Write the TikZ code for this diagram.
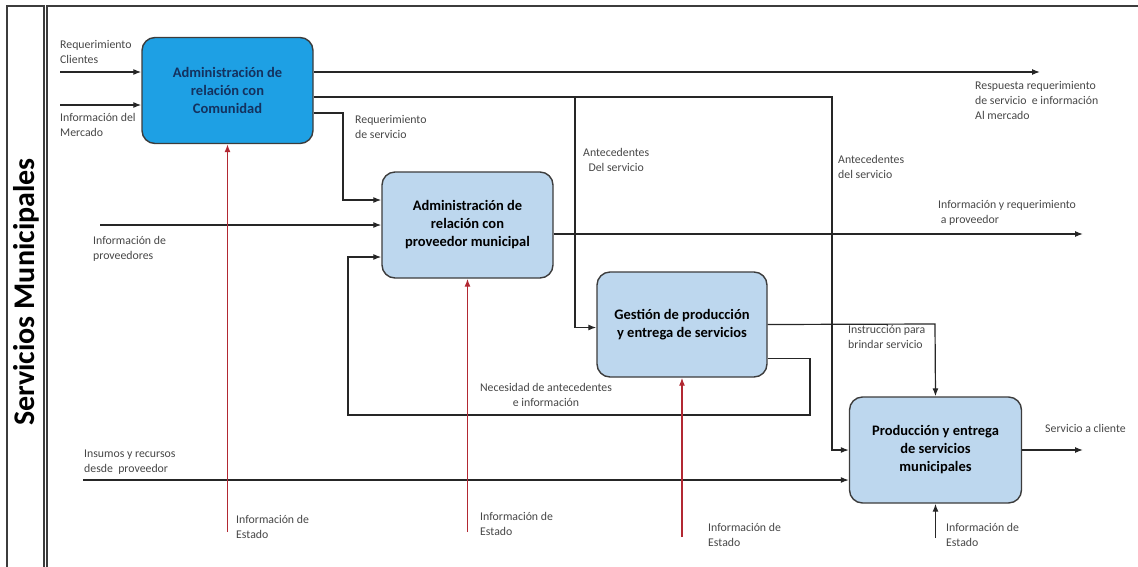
\documentclass[tikz,border=0pt]{standalone}
\usepackage{fontspec}
\setmainfont{Carlito}
\usepackage{xcolor}
\usepackage{tikz}
\usetikzlibrary{arrows.meta}

\definecolor{lineagris}{RGB}{60,60,60}
\definecolor{azulfuerte}{RGB}{30,160,228}
\definecolor{azulclaro}{RGB}{189,215,238}
\definecolor{azultexto}{RGB}{20,50,95}
\definecolor{rojoestado}{RGB}{178,40,50}
\definecolor{textogris}{RGB}{70,70,70}

\tikzset{
  proceso/.style={rectangle, rounded corners=13pt, draw=lineagris, line width=1.4pt,
    fill=azulclaro, minimum width=171pt, minimum height=106pt, align=center,
    font=\fontsize{14.5}{18}\selectfont\bfseries},
  etiqueta/.style={anchor=north west, align=left, inner sep=0pt, text=textogris,
    font=\fontsize{11.8}{15}\selectfont},
  flujo/.style={draw=black!85, line width=1.2pt, -{Latex[length=8pt,width=6pt]}},
  estado/.style={draw=rojoestado, line width=1.2pt, -{Latex[length=8pt,width=6pt]}}
}

\begin{document}
\begin{tikzpicture}[x=1pt, y=-1pt]
     \useasboundingbox (0,0) rectangle (1138,566);

     % marco y titulo
     \draw[lineagris, line width=1.6pt] (7,6) rectangle (44,570);
     \draw[lineagris, line width=1.6pt] (47,570) -- (47,6) -- (1140,6);
     \node[rotate=90, font=\fontsize{30}{34}\selectfont\bfseries] (titulo) at (26,292) {Servicios Municipales};

     % procesos
     \node[proceso, fill=azulfuerte, text=azultexto] (comunidad) at (227.5,90.5) {Administración de\\relación con\\Comunidad};
     \node[proceso] (proveedor) at (467.5,225) {Administración de\\relación con\\proveedor municipal};
     \node[proceso, minimum width=170pt, minimum height=105pt] (gestion) at (682,324.5) {Gestión de producción\\y entrega de servicios};
     \node[proceso, minimum width=172pt] (produccion) at (935.5,450) {Producción y entrega\\de servicios\\municipales};

     % extremos libres
     \coordinate (reqcli) at (60,72);
     \coordinate (infmer) at (60,105);
     \coordinate (resp) at (1040,72);
     \coordinate (antec) at (832,97);
     \coordinate (rama) at (575,97);
     \coordinate (reqserv) at (343,113);
     \coordinate (infprov) at (100,225);
     \coordinate (infreq) at (1083,234);
     \coordinate (instr) at (935,324);
     \coordinate (fbR) at (810,415);
     \coordinate (fbL) at (348,415);
     \coordinate (insumos) at (83,480);
     \coordinate (servcli) at (1083,450);
     \coordinate (est1) at (227.5,532);
     \coordinate (est2) at (467.5,532);
     \coordinate (est3) at (682,537);
     \coordinate (est4) at (935.5,538);

     % flujos
     \draw[flujo] (reqcli) -- (comunidad.west |- reqcli);
     \draw[flujo] (infmer) -- (comunidad.west |- infmer);
     \draw[flujo] (comunidad.east |- resp) -- (resp);
     \draw[flujo] (comunidad.east |- antec) -- (antec) |- (produccion.west);
     \draw[flujo] (rama) |- ([yshift=-3pt]gestion.west);
     \draw[flujo] (comunidad.east |- reqserv) -- (reqserv) |- ([yshift=25pt]proveedor.west);
     \draw[flujo] (infprov) -- (proveedor.west);
     \draw[flujo] ([yshift=-9pt]proveedor.east) -- (infreq);
     \draw[flujo] (gestion.east) -- (instr) -- (produccion.north);
     \draw[flujo] ([yshift=-34pt]gestion.east) -| (fbR) -- (fbL) |- ([yshift=-32pt]proveedor.west);
     \draw[flujo] (insumos) -- (produccion.west |- insumos);
     \draw[flujo] (produccion.east) -- (servcli);
     \draw[estado] (est1) -- (comunidad.south);
     \draw[estado] (est2) -- (proveedor.south);
     \draw[estado] (est3) -- (gestion.south);
     \draw[flujo] (est4) -- (produccion.south);

     % etiquetas
     \node[etiqueta] (lreqcli) at (60,40) {Requerimiento\\Clientes};
     \node[etiqueta] (linfmer) at (60,113) {Información del\\Mercado};
     \node[etiqueta] (lreqserv) at (355,115) {Requerimiento\\de servicio};
     \node[etiqueta, align=center] (lantec1) at (583,148) {Antecedentes\\Del servicio};
     \node[etiqueta] (lresp) at (975,81) {Respuesta requerimiento\\de servicio\ \ e información\\Al mercado};
     \node[etiqueta] (lantec2) at (838,155) {Antecedentes\\del servicio};
     \node[etiqueta] (linfreq) at (938,200) {Información y requerimiento\\\ a proveedor};
     \node[etiqueta] (linfprov) at (93,236) {Información de\\proveedores};
     \node[etiqueta] (linstr) at (848,325) {Instrucción para\\brindar servicio};
     \node[etiqueta, anchor=north, align=center] (lneces) at (546,383) {Necesidad de antecedentes\\e información};
     \node[etiqueta] (linsumos) at (84,450) {Insumos y recursos\\desde\ \ proveedor};
     \node[etiqueta] (lservcli) at (1045,424) {Servicio a cliente};
     \node[etiqueta] (lest1) at (236,515) {Información de\\Estado};
     \node[etiqueta] (lest2) at (480,512) {Información de\\Estado};
     \node[etiqueta] (lest3) at (708,523) {Información de\\Estado};
     \node[etiqueta] (lest4) at (946,523) {Información de\\Estado};
    \end{tikzpicture}
\end{document}
